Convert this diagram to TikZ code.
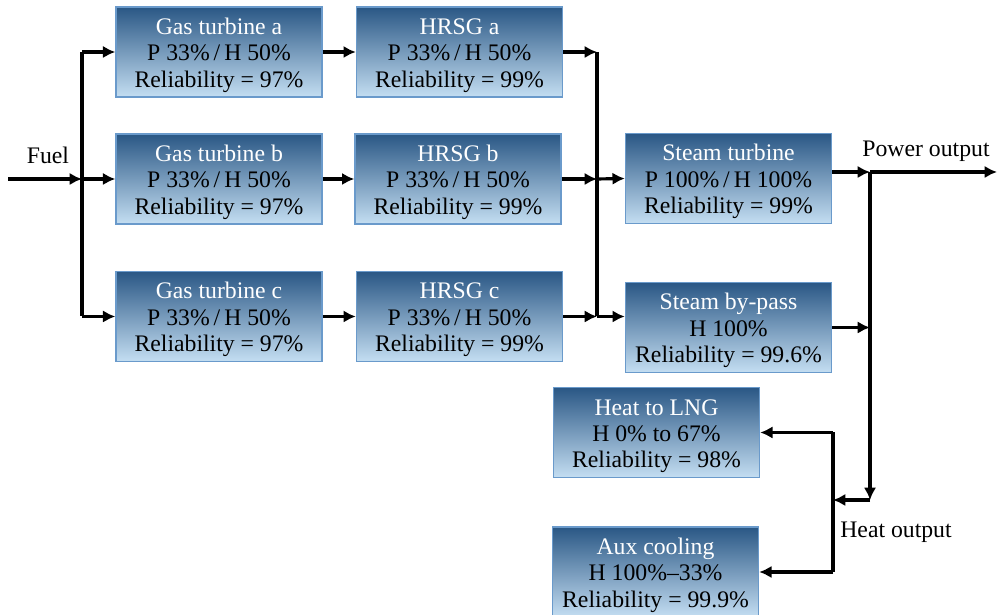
\documentclass[tikz,border=0pt]{standalone}
\usepackage{fontspec}
\setmainfont{Liberation Serif}
\usetikzlibrary{arrows.meta}
\definecolor{box_top}{HTML}{2A5785}
\definecolor{box_bottom}{HTML}{C4DEF2}
\definecolor{box_edge}{HTML}{6A9ACB}
\begin{document}
\begin{tikzpicture}[
    unit_box/.style={rectangle,draw=box_edge,line width=0.8pt,top color=box_top,bottom color=box_bottom,
      minimum width=4.12cm,minimum height=1.80cm,align=center,inner sep=0pt,
      font=\fontsize{13.5}{15}\selectfont,text=black},
    flow_line/.style={black,line width=1.8pt},
    flow_arrow/.style={black,line width=1.8pt,-{Latex[length=7pt,width=7pt]}},
    flow_label/.style={text=black,font=\fontsize{13.5}{15}\selectfont}]
\useasboundingbox (0,0) rectangle (19.98,12.30);
\newcommand{\boxtitle}[1]{\rule{0pt}{13pt}{\color{white}#1}}
% units
\node[unit_box] (gta) at (4.38,11.26) {\boxtitle{Gas turbine a}\\P 33\%\,/\,H 50\%\\Reliability = 97\%};
\node[unit_box] (gtb) at (4.38,8.72) {\boxtitle{Gas turbine b}\\P 33\%\,/\,H 50\%\\Reliability = 97\%};
\node[unit_box] (gtc) at (4.38,5.97) {\boxtitle{Gas turbine c}\\P 33\%\,/\,H 50\%\\Reliability = 97\%};
\node[unit_box] (hrsga) at (9.19,11.26) {\boxtitle{HRSG a}\\P 33\%\,/\,H 50\%\\Reliability = 99\%};
\node[unit_box] (hrsgb) at (9.16,8.72) {\boxtitle{HRSG b}\\P 33\%\,/\,H 50\%\\Reliability = 99\%};
\node[unit_box] (hrsgc) at (9.19,5.97) {\boxtitle{HRSG c}\\P 33\%\,/\,H 50\%\\Reliability = 99\%};
\node[unit_box] (st) at (14.57,8.73) {\boxtitle{Steam turbine}\\P 100\%\,/\,H 100\%\\Reliability = 99\%};
\node[unit_box] (sbp) at (14.57,5.75) {\boxtitle{Steam by-pass}\\H 100\%\\Reliability = 99.6\%};
\node[unit_box] (lng) at (13.13,3.65) {\boxtitle{Heat to LNG}\\H 0\% to 67\%\\Reliability = 98\%};
\node[unit_box] (aux) at (13.11,0.86) {\boxtitle{Aux cooling}\\H 100\%--33\%\\Reliability = 99.9\%};
% junction points
\coordinate (fuel_in) at (0.16,8.72);
\coordinate (fuel_bus) at (1.64,8.72);
\coordinate (steam_bus) at (11.94,8.72);
\coordinate (st_out) at (16.64,8.86);
\coordinate (power_bus) at (17.40,8.86);
\coordinate (power_out) at (19.94,8.86);
\coordinate (heat_in) at (17.40,2.30);
\coordinate (heat_bus) at (16.66,2.30);
% fuel to gas turbines
\draw[flow_arrow] (fuel_in) -- (fuel_bus);
\draw[flow_line] (fuel_bus |- gta) -- (fuel_bus |- gtc);
\draw[flow_arrow] (fuel_bus |- gta) -- (gta.west);
\draw[flow_arrow] (fuel_bus) -- (gtb.west);
\draw[flow_arrow] (fuel_bus |- gtc) -- (gtc.west);
% gas turbines to HRSGs
\draw[flow_arrow] (gta.east) -- (hrsga.west);
\draw[flow_arrow] (gtb.east) -- (hrsgb.west);
\draw[flow_arrow] (gtc.east) -- (hrsgc.west);
% HRSGs to steam bus
\draw[flow_arrow] (hrsga.east) -- (hrsga.east -| steam_bus);
\draw[flow_arrow] (hrsgb.east) -- (hrsgb.east -| steam_bus);
\draw[flow_arrow] (hrsgc.east) -- (hrsgc.east -| steam_bus);
\draw[flow_line] (steam_bus |- hrsga) -- (steam_bus |- hrsgc);
\draw[flow_arrow] (steam_bus) -- (st.west);
\draw[flow_arrow] (steam_bus |- hrsgc) -- (hrsgc -| sbp.west);
% power and heat outputs
\draw[flow_arrow] (st_out) -- (power_bus);
\draw[flow_arrow] (power_bus) -- (power_out);
\draw[flow_arrow] (sbp.east) -- (sbp.east -| power_bus);
\draw[flow_arrow] (power_bus) -- (heat_in);
\draw[flow_arrow] (heat_in) -- (heat_bus);
\draw[flow_line] (heat_bus |- lng) -- (heat_bus |- aux);
\draw[flow_arrow] (heat_bus |- lng) -- (lng.east);
\draw[flow_arrow] (heat_bus |- aux) -- (aux.east);
% labels
\node[flow_label] (fuel_text) at (0.96,9.20) {Fuel};
\node[flow_label] (power_text) at (18.52,9.28) {Power output};
\node[flow_label] (heat_text) at (17.92,1.66) {Heat output};
\end{tikzpicture}
\end{document}
